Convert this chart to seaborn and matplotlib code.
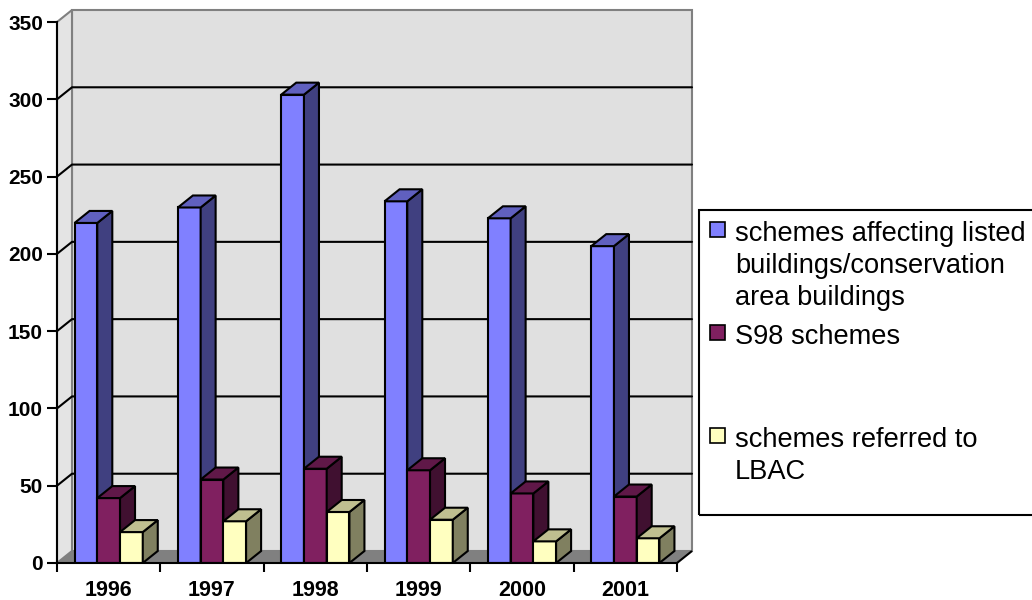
import numpy as np
import pandas as pd
import matplotlib
matplotlib.use("Agg")
import matplotlib.pyplot as plt
import seaborn as sns
from matplotlib.patches import Polygon, Rectangle

# ---------------- data ----------------
years = ["1996", "1997", "1998", "1999", "2000", "2001"]
series = ["schemes affecting listed buildings/conservation area buildings",
          "S98 schemes",
          "schemes referred to LBAC"]
legend_labels = ["schemes affecting listed\nbuildings/conservation\narea buildings",
                 "S98 schemes",
                 "schemes referred to\nLBAC"]
listed = [220, 230, 303, 234, 223, 205]
s98 = [42, 54, 61, 60, 45, 43]
lbac = [20, 27, 33, 28, 14, 16]
y_ticks = [0, 50, 100, 150, 200, 250, 300, 350]

front_colors = ["#8080FF", "#802060", "#FFFFC0"]
top_colors = ["#6060BF", "#601848", "#BFBF90"]
side_colors = ["#404080", "#401030", "#808060"]

# ---------------- style ----------------
sns.set_theme(style="white")
plt.rcParams["font.family"] = ["Liberation Sans", "DejaVu Sans"]

df = pd.DataFrame({
    "year": years * 3,
    "series": np.repeat(series, len(years)),
    "value": listed + s98 + lbac,
})

W, H = 1032, 600
fig = plt.figure(figsize=(W / 100, H / 100), dpi=100)
fig.patch.set_facecolor("white")
ax = fig.add_axes([57 / W, 1 - 563 / H, 620 / W, 541 / H])
ax.patch.set_visible(False)

sns.barplot(data=df, x="year", y="value", hue="series", order=years,
            hue_order=series, palette=front_colors, width=0.66, gap=0,
            saturation=1, edgecolor="black", linewidth=1.5, errorbar=None,
            legend=False, ax=ax)

ymax = y_ticks[-1]
ax.set_xlim(-0.5, len(years) - 0.5)
ax.set_ylim(0, ymax)

# depth offsets (pixels -> data units)
px_x = 620 / len(years)
px_y = 541 / ymax
dx = 15 / px_x
dy = 12 / px_y
x_left, x_right = -0.5, len(years) - 0.5

# back wall
ax.add_patch(Rectangle((x_left + dx, dy), x_right - x_left, ymax,
                       facecolor="#E0E0E0", edgecolor="#808080", lw=1.5,
                       clip_on=False, zorder=0.5))
# left wall
ax.add_patch(Polygon([(x_left, 0), (x_left + dx, dy), (x_left + dx, ymax + dy),
                      (x_left, ymax)], closed=True, facecolor="#E4E4E4",
                     edgecolor="#808080", lw=1.5, clip_on=False, zorder=0.6))
# floor
ax.add_patch(Polygon([(x_left, 0), (x_right, 0), (x_right + dx, dy),
                      (x_left + dx, dy)], closed=True, facecolor="#808080",
                     edgecolor="none", clip_on=False, zorder=0.7))
ax.plot([x_right, x_right + dx], [0, dy], color="black", lw=1.5,
        clip_on=False, zorder=0.8, solid_capstyle="butt")

# gridlines on walls
for v in y_ticks[1:-1]:
    ax.plot([x_left, x_left + dx, x_right + dx], [v, v + dy, v + dy],
            color="black", lw=1.5, clip_on=False, zorder=0.9)

# 3D faces for bars
for h, cont in enumerate(ax.containers):
    for bar in cont:
        x0 = bar.get_x()
        w = bar.get_width()
        hv = bar.get_height()
        x1 = x0 + w
        bar.set_zorder(3 + h)
        side = Polygon([(x1, 0), (x1 + dx, dy), (x1 + dx, hv + dy), (x1, hv)],
                       closed=True, facecolor=side_colors[h], edgecolor="black",
                       lw=1.5, zorder=3 + h, clip_on=False, joinstyle="miter")
        top = Polygon([(x0, hv), (x1, hv), (x1 + dx, hv + dy), (x0 + dx, hv + dy)],
                      closed=True, facecolor=top_colors[h], edgecolor="black",
                      lw=1.5, zorder=3 + h, clip_on=False, joinstyle="miter")
        ax.add_patch(side)
        ax.add_patch(top)

# axes, ticks
for s in ["top", "right"]:
    ax.spines[s].set_visible(False)
for s in ["left", "bottom"]:
    ax.spines[s].set_color("black")
    ax.spines[s].set_linewidth(1.5)
    ax.spines[s].set_zorder(10)

ax.set_yticks(y_ticks)
ax.set_yticklabels([str(v) for v in y_ticks])
ax.set_xticks(range(len(years)))
ax.set_xticklabels(years)
ax.set_xticks(np.arange(-0.5, len(years)), minor=True)
ax.tick_params(axis="y", direction="out", length=7, width=1.5, color="black",
               pad=3, labelsize=15, left=True)
ax.tick_params(axis="x", which="major", length=0, pad=12, labelsize=15.5)
ax.tick_params(axis="x", which="minor", direction="out", length=6.5, width=1.5,
               color="black", bottom=True)
for lab in ax.get_xticklabels() + ax.get_yticklabels():
    lab.set_fontweight("bold")
    lab.set_color("black")
ax.set_xlabel("")
ax.set_ylabel("")
ax.grid(False)

# legend (Excel style box)
fig.add_artist(Rectangle((699 / W, 1 - 515 / H), (1045 - 699) / W, 305 / H,
                         transform=fig.transFigure, fill=False,
                         edgecolor="black", lw=1.5))
sq_tops = [222, 325, 428]
for i, lab in enumerate(legend_labels):
    fig.add_artist(Rectangle((710 / W, 1 - (sq_tops[i] + 15) / H), 15 / W, 15 / H,
                             transform=fig.transFigure, facecolor=front_colors[i],
                             edgecolor="black", lw=1.2))
    fig.text(735 / W, 1 - (sq_tops[i] - 1) / H, lab, ha="left", va="top",
             fontsize=19.6, color="black", linespacing=1.3)

fig.savefig("out.png", dpi=100)
